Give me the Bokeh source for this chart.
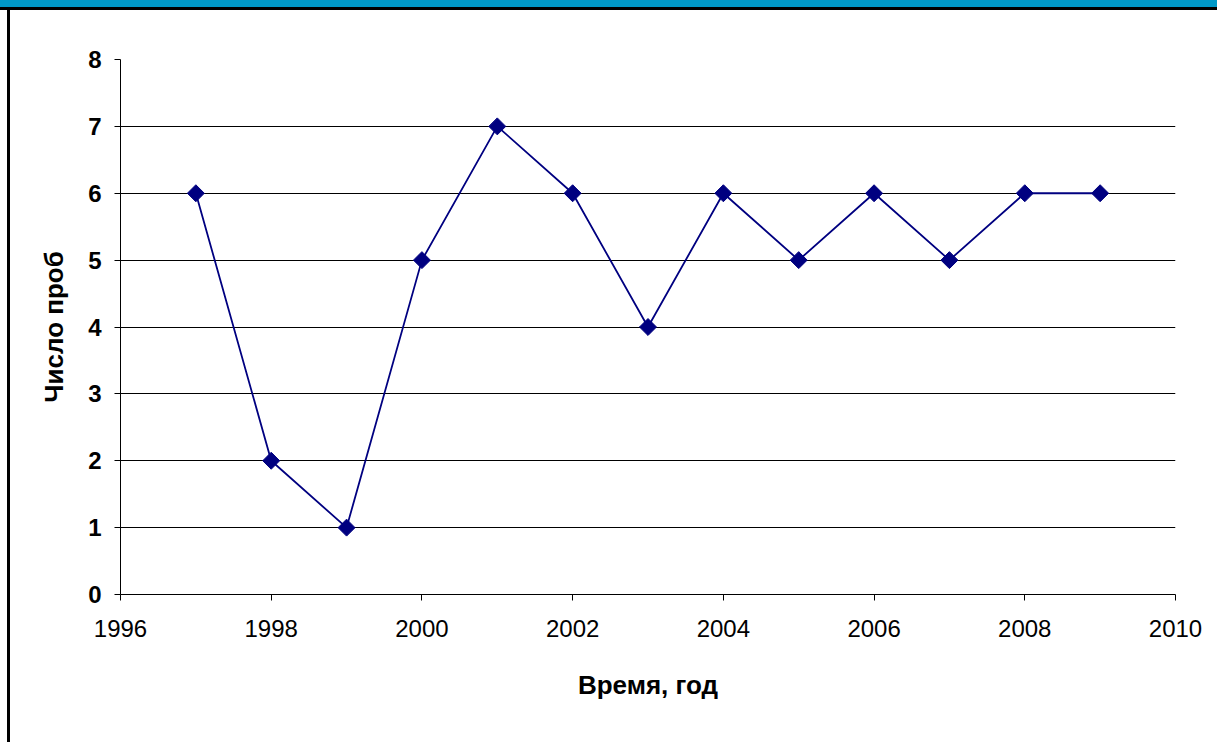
from bokeh.plotting import figure
from bokeh.models import Range1d, FixedTicker, Div
from bokeh.layouts import column, row
from bokeh.embed import file_html
from bokeh.resources import INLINE
import numpy as np

years = [1997, 1998, 1999, 2000, 2001, 2002, 2003, 2004, 2005, 2006, 2007, 2008, 2009]
samples = [6, 2, 1, 5, 7, 6, 4, 6, 5, 6, 5, 6, 6]
x_ticks = [1996, 1998, 2000, 2002, 2004, 2006, 2008, 2010]
y_ticks = [0, 1, 2, 3, 4, 5, 6, 7, 8]

p = figure(width=1207, height=732, output_backend="svg", toolbar_location=None,
           x_range=Range1d(1996, 2010), y_range=Range1d(0, 8),
           min_border_left=110, min_border_right=42, min_border_top=49, min_border_bottom=148)
p.outline_line_color = None
p.background_fill_color = "white"
p.border_fill_color = "white"

p.xgrid.grid_line_color = None
p.ygrid.grid_line_color = "black"
p.ygrid.grid_line_width = 1
p.ygrid.ticker = FixedTicker(ticks=y_ticks)

p.xaxis.ticker = FixedTicker(ticks=x_ticks)
p.yaxis.ticker = FixedTicker(ticks=y_ticks)
for ax in (p.xaxis[0], p.yaxis[0]):
    ax.axis_line_color = "black"
    ax.major_tick_line_color = "black"
    ax.major_tick_out = 6
    ax.major_tick_in = 0
    ax.minor_tick_line_color = None
    ax.major_label_text_color = "black"
    ax.major_label_text_font = "Liberation Sans"
    ax.major_label_text_font_size = "24px"
    ax.axis_label_text_font = "Liberation Sans"
    ax.axis_label_text_font_style = "bold"
    ax.axis_label_text_font_size = "26px"
    ax.axis_label_text_color = "black"

p.yaxis.major_label_text_font_style = "bold"
p.xaxis.major_label_standoff = 19
p.yaxis.major_label_standoff = 13
p.xaxis.axis_label = "Время, год"
p.yaxis.axis_label = "Число проб"
p.xaxis.axis_label_standoff = 30
p.yaxis.axis_label_standoff = 16

p.line(years, samples, line_color="#000080", line_width=1.8)
p.scatter(years, samples, marker="square", angle=np.pi / 4, size=12,
          fill_color="#000080", line_color="#000080")

band = Div(text="", width=1217, height=10, margin=0,
           styles={"background": "linear-gradient(to bottom, #0099c8 0px, #0099c8 7px, #000000 7px, #000000 10px)"})
gap = Div(text="", width=7, height=732, margin=0, styles={"background-color": "white"})
edge = Div(text="", width=3, height=732, margin=0, styles={"background-color": "black"})

layout = column(band, row(gap, edge, p, spacing=0, margin=0), spacing=0, margin=0)

open("out.html", "w").write(file_html(layout, INLINE))
